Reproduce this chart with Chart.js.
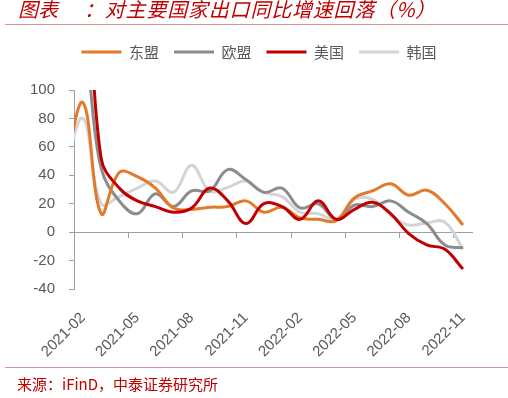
<!DOCTYPE html>
<html><head><meta charset="utf-8">
<script src="https://cdn.jsdelivr.net/npm/chart.js@4"></script>
<style>
html,body{margin:0;padding:0;background:#fff;}
#wrap{position:relative;width:508px;height:398px;overflow:hidden;background:#fff;}
canvas{position:absolute;left:0;top:0;}
.t{position:absolute;font-family:"Noto Sans CJK SC";color:#C00000;white-space:nowrap;}
.rule{position:absolute;left:5px;width:503px;height:1px;background:#D99694;}
</style></head><body>
<div id="wrap">
<canvas id="c" width="508" height="398"></canvas>
<div class="t" style="left:18px;top:-1px;font-size:20px;line-height:20px;font-style:italic;">图表</div>
<div class="t" style="left:84px;top:-1px;font-size:20px;line-height:20px;font-style:italic;letter-spacing:0.8px;">：对主要国家出口同比增速回落（%）</div>
<div class="rule" style="top:24px;"></div>
<div class="rule" style="top:367px;"></div>
<div class="t" style="left:17px;top:376px;font-size:15px;line-height:15px;">来源：iFinD，中泰证券研究所</div>
</div>
<script>
const months = ['2021-01','2021-02','2021-03','2021-04','2021-05','2021-06','2021-07','2021-08','2021-09','2021-10','2021-11','2021-12',
  '2022-01','2022-02','2022-03','2022-04','2022-05','2022-06','2022-07','2022-08','2022-09','2022-10','2022-11'];
const firstShown = '2021-02';
const asean = [45, 91, 13, 42, 39, 31, 17, 16, 17.5, 18, 22, 14, 17.5, 10, 9, 8, 24, 29, 34, 26, 29.5, 20, 5];
const eu    = [95, 125, 45, 22, 13, 27, 18, 29, 29, 44, 37, 28, 31, 17, 20, 9, 19, 18, 22, 14, 6, -9, -11];
const us    = [110, 200, 52, 31, 22, 18, 14, 17, 31, 22, 6, 20, 18, 9, 22, 9, 16, 21, 13, -1, -9, -12, -26];
const korea = [45, 80, 20, 25, 31, 36, 28, 47, 29, 31.5, 36, 28, 25, 14, 13, 9, 23, 23, 12, 5, 6.5, 7, -12];
const seriesNames = ['东盟', '欧盟', '美国', '韩国'];
const yTicks = {min: -40, max: 100, step: 20};

const axisColor = '#A0A0A0';
const textColor = '#595959';
const colors = ['#E3792B', '#8C8C8C', '#C00000', '#D4D4D4'];
const drawOrder = [1, 2, 0, 3];
const values = [asean, eu, us, korea];

const legendGap = {
  id: 'legendGap',
  beforeInit(chart) {
    const lg = chart.legend;
    if (!lg) return;
    const fit = lg.fit;
    lg.fit = function () { fit.call(this); this.height += 20.5; };
  },
  afterLayout(chart) {
    if (chart.legend) chart.legend.left = 46;
  }
};

new Chart(document.getElementById('c'), {
  type: 'line',
  data: {
    labels: months,
    datasets: seriesNames.map((n, k) => ({
      label: n,
      data: values[k],
      borderColor: colors[k],
      backgroundColor: colors[k],
      borderWidth: 3,
      pointRadius: 0,
      pointHoverRadius: 0,
      tension: 0.4,
      fill: false,
      order: drawOrder[k]
    }))
  },
  options: {
    responsive: false,
    devicePixelRatio: 1,
    animation: false,
    events: [],
    layout: {padding: {top: 29.5, left: 0, right: 36, bottom: 0}},
    elements: {line: {capBezierPoints: false}},
    plugins: {
      tooltip: {enabled: false},
      legend: {
        position: 'top',
        labels: {
          boxWidth: 40,
          boxHeight: 3,
          padding: 15,
          color: textColor,
          font: {family: '"Noto Sans CJK SC"', size: 15},
          sort: (a, b) => a.datasetIndex - b.datasetIndex,
          generateLabels(chart) {
            const items = Chart.defaults.plugins.legend.labels.generateLabels(chart);
            items.forEach(it => { it.lineWidth = 0; it.fillStyle = it.strokeStyle; });
            return items;
          }
        }
      }
    },
    scales: {
      x: {
        type: 'category',
        position: {y: 0},
        min: firstShown,
        offset: true,
        grid: {
          display: true,
          drawOnChartArea: false,
          drawTicks: true,
          tickLength: 5,
          offset: true,
          tickColor: ctx => (ctx.tick && (ctx.tick.value - 1) % 3 === 0) ? axisColor : 'rgba(0,0,0,0)'
        },
        border: {display: true, color: axisColor, width: 1},
        ticks: {display: false, autoSkip: false}
      },
      x2: {
        type: 'category',
        position: 'bottom',
        labels: months,
        min: firstShown,
        offset: true,
        grid: {display: false},
        border: {display: false},
        ticks: {
          autoSkip: false,
          minRotation: 45,
          maxRotation: 45,
          padding: 12,
          color: textColor,
          font: {family: '"Liberation Sans"', size: 15},
          callback: v => ((v - 1) % 3 === 0 ? months[v] : '')
        },
        afterFit: s => { s.height = 109; }
      },
      y: {
        min: yTicks.min,
        max: yTicks.max,
        grid: {display: true, drawOnChartArea: false, drawTicks: true, tickLength: 5, tickColor: axisColor},
        border: {display: true, color: axisColor, width: 1},
        ticks: {
          stepSize: yTicks.step,
          padding: 14,
          color: textColor,
          font: {family: '"Liberation Sans"', size: 15}
        },
        afterFit: s => { s.width = 74; }
      }
    }
  },
  plugins: [legendGap]
});
</script>
</body></html>
